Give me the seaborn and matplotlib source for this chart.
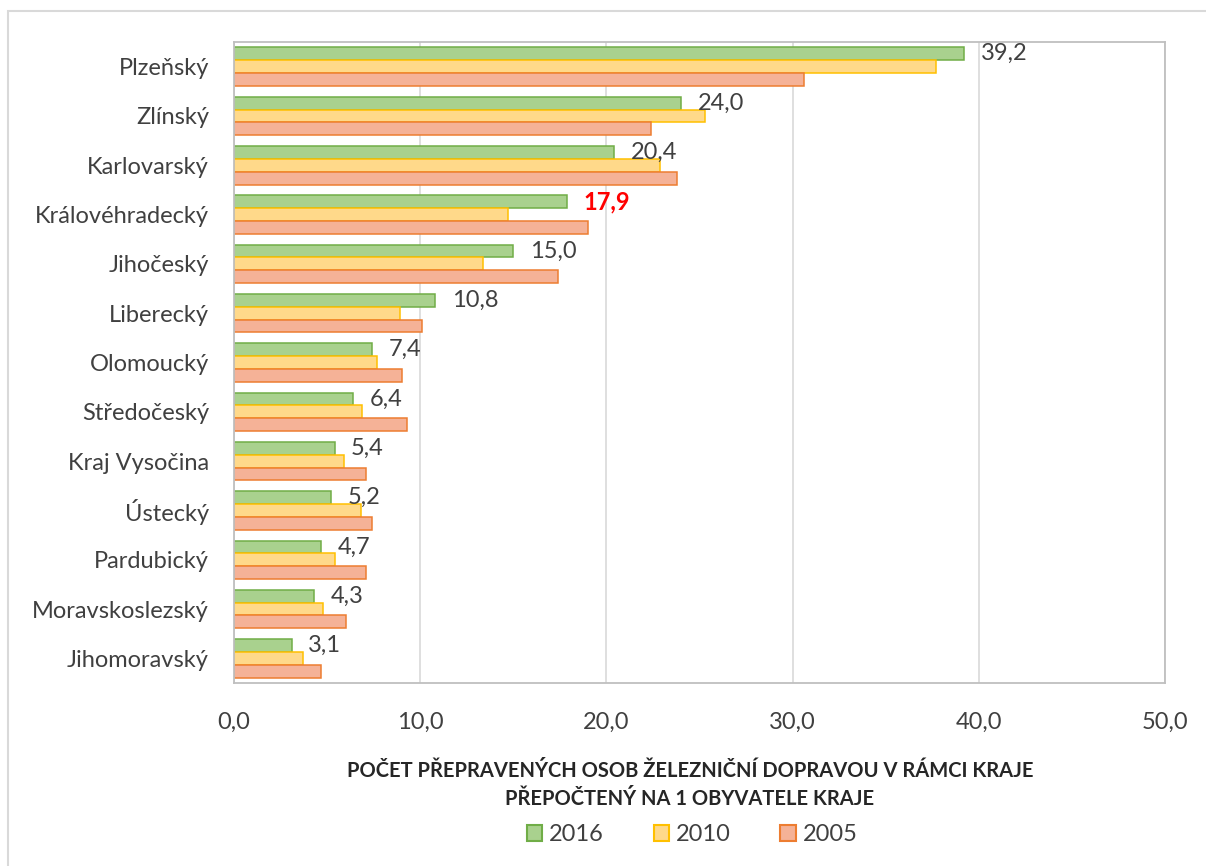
import matplotlib
matplotlib.use("Agg")
import matplotlib.pyplot as plt
from matplotlib.patches import Patch, Rectangle
import pandas as pd
import seaborn as sns

# data
regions = ["Plzeňský", "Zlínský", "Karlovarský", "Královéhradecký", "Jihočeský",
           "Liberecký", "Olomoucký", "Středočeský", "Kraj Vysočina", "Ústecký",
           "Pardubický", "Moravskoslezský", "Jihomoravský"]
years = ["2016", "2010", "2005"]
v2016 = [39.2, 24.0, 20.4, 17.9, 15.0, 10.8, 7.4, 6.4, 5.4, 5.2, 4.7, 4.3, 3.1]
v2010 = [37.7, 25.3, 22.9, 14.7, 13.4, 8.9, 7.7, 6.9, 5.9, 6.8, 5.4, 4.8, 3.7]
v2005 = [30.6, 22.4, 23.8, 19.0, 17.4, 10.1, 9.0, 9.3, 7.1, 7.4, 7.1, 6.0, 4.7]
highlight = "Královéhradecký"

fills = ["#a9d18e", "#ffd98a", "#f5b297"]
edges = ["#70ad47", "#ffc000", "#ed7d31"]
text_col = "#404040"

df = pd.DataFrame({
    "kraj": regions * 3,
    "rok": [y for y in years for _ in regions],
    "hodnota": v2016 + v2010 + v2005,
})

sns.set_style("white")
plt.rcParams["font.family"] = ["Lato", "DejaVu Sans"]

fig = plt.figure(figsize=(12.06, 8.66), dpi=100)
ax = fig.add_axes([0.194, 0.2113, 0.772, 0.7402])

sns.barplot(data=df, y="kraj", x="hodnota", hue="rok", order=regions,
            hue_order=years, palette=fills, saturation=1, width=0.78,
            orient="h", legend=False, ax=ax)

for cont, ec in zip(ax.containers, edges):
    for bar in cont:
        bar.set_edgecolor(ec)
        bar.set_linewidth(1.1)

# data labels only for 2016
labels = [f"{v:.1f}".replace(".", ",") for v in v2016]
txts = ax.bar_label(ax.containers[0], labels=labels, padding=12,
                    fontsize=17, color=text_col)
for t, r in zip(txts, regions):
    if r == highlight:
        t.set_color("red")
        t.set_fontweight("bold")

ax.set_xlim(0, 50)
ax.set_xticks([0, 10, 20, 30, 40, 50])
ax.set_xticklabels([f"{v:.1f}".replace(".", ",") for v in [0, 10, 20, 30, 40, 50]])
ax.tick_params(axis="x", length=0, pad=21, labelsize=17, labelcolor=text_col)
ax.tick_params(axis="y", length=0, pad=18, labelsize=17, labelcolor=text_col)
ax.set_ylabel("")
ax.set_xlabel("")
ax.grid(axis="x", color="#d9d9d9", linewidth=1.2)
ax.set_axisbelow(True)
for s in ax.spines.values():
    s.set_visible(True)
    s.set_color("#bfbfbf")
    s.set_linewidth(1.3)

fig.text(0.572, 0.0935, "POČET PŘEPRAVENÝCH OSOB ŽELEZNIČNÍ DOPRAVOU V RÁMCI KRAJE\n"
         "PŘEPOČTENÝ NA 1 OBYVATELE KRAJE", ha="center", va="center",
         fontsize=14.5, fontweight="bold", color="#262626", linespacing=1.45)

handles = [Patch(facecolor=f, edgecolor=e, linewidth=1.5) for f, e in zip(fills, edges)]
fig.legend(handles, years, loc="center", bbox_to_anchor=(0.574, 0.036), ncol=3,
           frameon=False, fontsize=17, handlelength=0.65, handleheight=0.65,
           handletextpad=0.3, columnspacing=2.1, labelcolor=text_col)

# outer chart frame
fig.patches.append(Rectangle((0.0066, -0.1), 1.2, 1.087, transform=fig.transFigure,
                             fill=False, edgecolor="#d9d9d9", linewidth=1.5))

fig.savefig("out.png", dpi=100)
